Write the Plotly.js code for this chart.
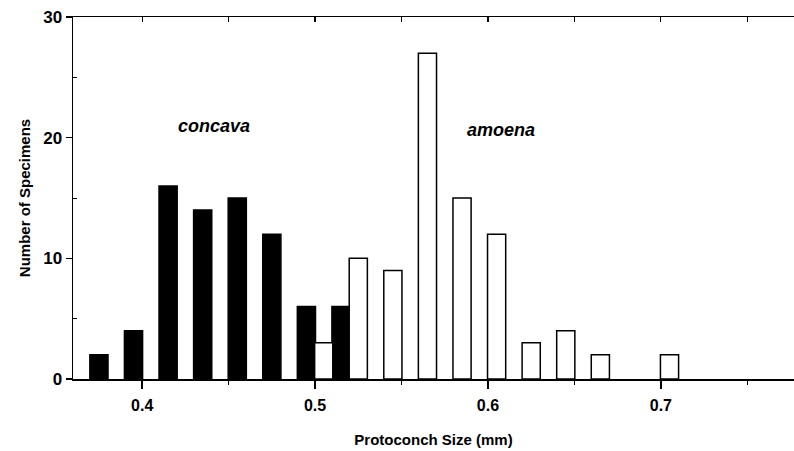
<!DOCTYPE html>
<html>
<head>
<meta charset="utf-8">
<script src="https://cdn.plot.ly/plotly-3.0.1.min.js"></script>
<style>
  html, body { margin: 0; padding: 0; background: #fff; }
  #chart { width: 794px; height: 451px; }
</style>
</head>
<body>
<div id="chart"></div>
<script>
// Bin centres (protoconch size, mm) and counts
const concavaSize = [0.375, 0.395, 0.415, 0.435, 0.455, 0.475, 0.495, 0.515];
const concavaCount = [2, 4, 16, 14, 15, 12, 6, 6];
const amoenaSize = [0.505, 0.525, 0.545, 0.565, 0.585, 0.605, 0.625, 0.645, 0.665, 0.705];
const amoenaCount = [3, 10, 9, 27, 15, 12, 3, 4, 2, 2];
const xTickVals = [0.4, 0.5, 0.6, 0.7];
const xTickText = ['0.4', '0.5', '0.6', '0.7'];
const yTickVals = [0, 10, 20, 30];
const yTickText = ['0', '10', '20', '30'];
const speciesLabels = ['concava', 'amoena'];
const labelX = [0.4415, 0.6075];
const labelY = [21.0, 20.6];

const FONT = 'Liberation Sans, Arial, Helvetica, sans-serif';
const BW = 0.0105;

const traces = [
  {
    type: 'bar', name: 'concava', x: concavaSize, y: concavaCount, width: BW,
    marker: { color: '#000', line: { color: '#000', width: 1.5 } },
    hoverinfo: 'x+y'
  },
  {
    type: 'bar', name: 'amoena', x: amoenaSize, y: amoenaCount, width: BW,
    marker: { color: '#fff', line: { color: '#000', width: 1.5 } },
    hoverinfo: 'x+y'
  }
];

const layout = {
  width: 794, height: 451,
  margin: { l: 73, r: 0, t: 17, b: 72 },
  paper_bgcolor: '#fff', plot_bgcolor: '#fff',
  showlegend: false,
  barmode: 'overlay',
  font: { family: FONT, color: '#000' },
  xaxis: {
    range: [0.36, 0.777],
    tickmode: 'array', tickvals: xTickVals, ticktext: xTickText,
    ticks: 'outside', ticklen: 8, tickwidth: 1.5, tickcolor: '#000',
    ticklabelstandoff: 3,
    minor: { dtick: 0.05, tick0: 0.45, ticks: 'outside', ticklen: 4, tickwidth: 1, tickcolor: '#000', showgrid: false },
    showline: true, linecolor: '#000', linewidth: 1.5,
    showgrid: false, zeroline: false,
    tickfont: { family: FONT, size: 16, weight: 'bold' },
    title: { text: '<b>Protoconch Size (mm)</b>', font: { family: FONT, size: 15 }, standoff: 22 }
  },
  xaxis2: {
    overlaying: 'x', matches: 'x', side: 'top', anchor: 'y',
    range: [0.36, 0.777],
    tick0: 0.4, dtick: 0.05, ticks: 'inside', ticklen: 5, tickwidth: 1.2, tickcolor: '#000',
    showticklabels: false, showline: true, linecolor: '#000', linewidth: 1.5,
    showgrid: false, zeroline: false
  },
  yaxis: {
    range: [0, 30],
    tickmode: 'array', tickvals: yTickVals, ticktext: yTickText,
    ticks: 'outside', ticklen: 6, tickwidth: 1.5, tickcolor: '#000',
    ticklabelstandoff: 0,
    minor: { tickvals: [5, 15, 25], ticks: 'inside', ticklen: 4, tickwidth: 1, tickcolor: '#000', showgrid: false },
    showline: true, linecolor: '#000', linewidth: 1.5,
    showgrid: false, zeroline: false,
    tickfont: { family: FONT, size: 17, weight: 'bold' },
    title: { text: '<b>Number of Specimens</b>', font: { family: FONT, size: 15 }, standoff: 9 }
  },
  annotations: speciesLabels.map((t, i) => ({
    x: labelX[i], y: labelY[i], xref: 'x', yref: 'y',
    text: '<b><i>' + t + '</i></b>', showarrow: false,
    font: { family: FONT, size: 18, color: '#000' }
  }))
};

// invisible trace to activate the top axis
traces.push({ type: 'scatter', x: [0.5], y: [0], xaxis: 'x2', yaxis: 'y', mode: 'markers', marker: { opacity: 0 }, hoverinfo: 'skip', showlegend: false });

Plotly.newPlot('chart', traces, layout, { displayModeBar: false, staticPlot: true });
</script>
</body>
</html>
